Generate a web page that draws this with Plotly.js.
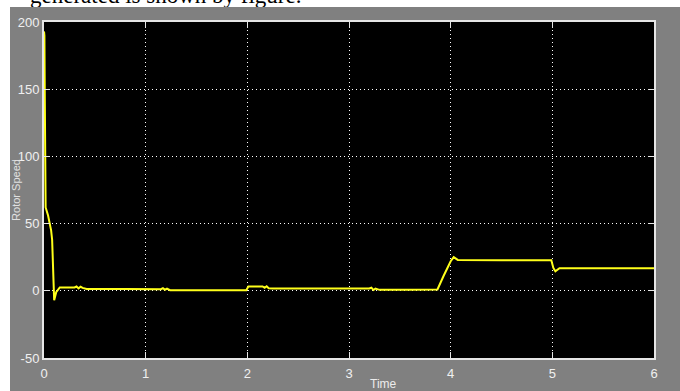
<!DOCTYPE html>
<html>
<head>
<meta charset="utf-8">
<script src="https://cdn.plot.ly/plotly-3.0.1.min.js"></script>
<style>
  html, body { margin: 0; padding: 0; background: #ffffff; width: 680px; height: 391px; overflow: hidden; }
  #caption { position: absolute; left: 30px; top: -16px; font-family: "Liberation Serif", "Times New Roman", serif; font-size: 23px; line-height: 23px; color: #000; white-space: nowrap; z-index: 0; }
  #frame { position: absolute; left: 10px; top: 7px; width: 670px; height: 384px; background: #808080; z-index: 1; }
  #chart { width: 670px; height: 384px; }
</style>
</head>
<body>
<div id="caption">generated is shown by figure.</div>
<div id="frame"><div id="chart"></div></div>
<script>
// Time (s) and rotor speed values
const time = [0, 0.004, 0.008, 0.012, 0.016, 0.04, 0.07, 0.08, 0.1, 0.12, 0.155,
  0.3, 0.32, 0.34, 0.36, 0.38, 0.42, 0.8, 1.15, 1.17, 1.19, 1.21, 1.24, 1.3, 1.6, 1.99,
  2.01, 2.05, 2.15, 2.17, 2.19, 2.21, 2.25, 2.6, 3.0, 3.2, 3.22, 3.24, 3.26, 3.3, 3.6, 3.87,
  3.93, 4.0, 4.03, 4.07, 4.5, 4.99, 5.01, 5.03, 5.07, 5.5, 6.0];
const speed = [193, 190, 142, 68, 62, 56, 45, 38, -7, -1, 2.5,
  2.5, 3.2, 1.8, 3.0, 2.2, 1.3, 1.3, 1.2, 2.0, 0.8, 1.6, 0.5, 0.5, 0.5, 0.5,
  3.2, 3.2, 3.2, 2.2, 3.4, 1.9, 1.8, 1.8, 1.8, 1.7, 2.3, 0.6, 1.6, 0.7, 0.7, 1.0,
  11, 22, 25, 23, 22.8, 22.8, 17, 14.5, 16.8, 16.8, 16.8];

const xTicks = [0, 1, 2, 3, 4, 5, 6];
const yTicks = [-50, 0, 50, 100, 150, 200];

const axisCommon = {
  showgrid: true,
  gridcolor: '#ffffff',
  griddash: '1px,3px',
  gridwidth: 1,
  zeroline: false,
  showline: true,
  linecolor: '#e6e6e6',
  linewidth: 2,
  mirror: 'ticks',
  ticks: 'inside',
  ticklen: 6,
  tickcolor: '#e6e6e6',
  tickwidth: 1,
  tickfont: { family: 'Liberation Sans Narrow, Arial Narrow, Liberation Sans, sans-serif', size: 13, color: '#f0f0f0' }
};

Plotly.newPlot('chart', [{
  x: time,
  y: speed,
  type: 'scatter',
  mode: 'lines',
  line: { color: '#ffff1a', width: 2 },
  hoverinfo: 'skip'
}], {
  width: 670,
  height: 384,
  margin: { l: 34, r: 26, t: 15, b: 33 },
  paper_bgcolor: '#808080',
  plot_bgcolor: '#000000',
  showlegend: false,
  xaxis: Object.assign({}, axisCommon, {
    range: [0, 6],
    tickvals: xTicks,
    ticktext: xTicks.map(String),
    ticklabelstandoff: 2
  }),
  yaxis: Object.assign({}, axisCommon, {
    range: [-50, 200],
    tickvals: yTicks,
    ticktext: yTicks.map(String),
    title: { text: 'Rotor Speed', font: { family: 'Liberation Sans, Arial, sans-serif', size: 11, color: '#e0e0e0' }, standoff: 2 }
  }),
  annotations: [{
    text: 'Time',
    xref: 'paper', yref: 'paper',
    x: 0.557, y: -0.052,
    xanchor: 'center', yanchor: 'top',
    showarrow: false,
    font: { family: 'Liberation Sans Narrow, Arial Narrow, Liberation Sans, sans-serif', size: 12, color: '#ececec' }
  }]
}, { displayModeBar: false, staticPlot: true });
</script>
</body>
</html>
